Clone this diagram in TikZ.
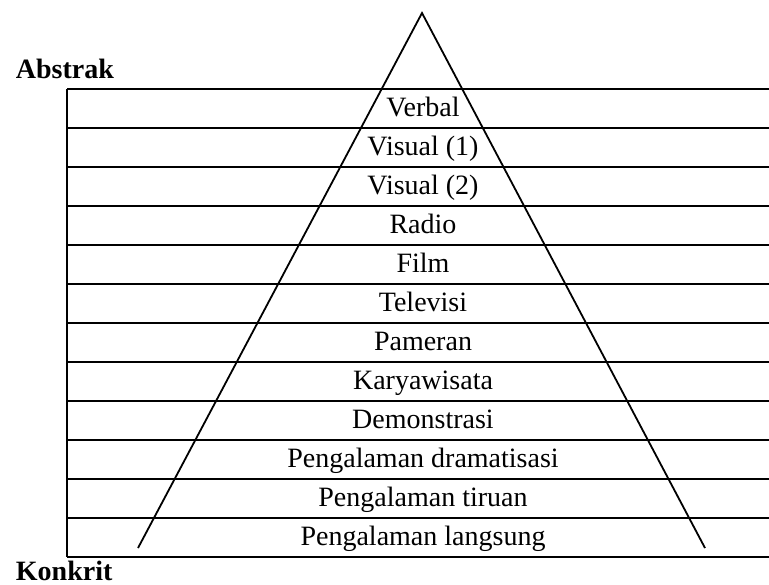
\documentclass[tikz,border=0pt]{standalone}
\usepackage{fontspec}
\setmainfont{Liberation Serif}
\begin{document}
\begin{tikzpicture}[x=0.5pt,y=-0.5pt,line width=0.9pt,
	level/.style={font=\fontsize{14}{17}\selectfont,inner sep=0pt,anchor=base},
	side/.style={font=\fontsize{14}{17}\selectfont\bfseries,anchor=base west,inner sep=0pt}]
			\useasboundingbox (0,0) rectangle (769,584);
			\coordinate (top) at (422,13);
			\coordinate (bl) at (138,548);
			\coordinate (br) at (705,548);
			\coordinate (boxtl) at (67,89);
			\coordinate (boxbl) at (67,557);
			\node[side] (abstrak) at (15,78) {Abstrak};
			\node[side] (konkrit) at (15,580) {Konkrit};
			\draw (boxtl) -- (boxbl);
			\foreach \i in {0,...,12}
				\draw (67,89+39*\i) -- (769,89+39*\i);
			\draw (bl) -- (top) -- (br);
			\foreach \t [count=\i from 0] in {Verbal,Visual (1),Visual (2),Radio,Film,Televisi,Pameran,Karyawisata,Demonstrasi,Pengalaman dramatisasi,Pengalaman tiruan,Pengalaman langsung}
				\node[level] (lvl\i) at (423,116+39*\i) {\t};
		\end{tikzpicture}
\end{document}
